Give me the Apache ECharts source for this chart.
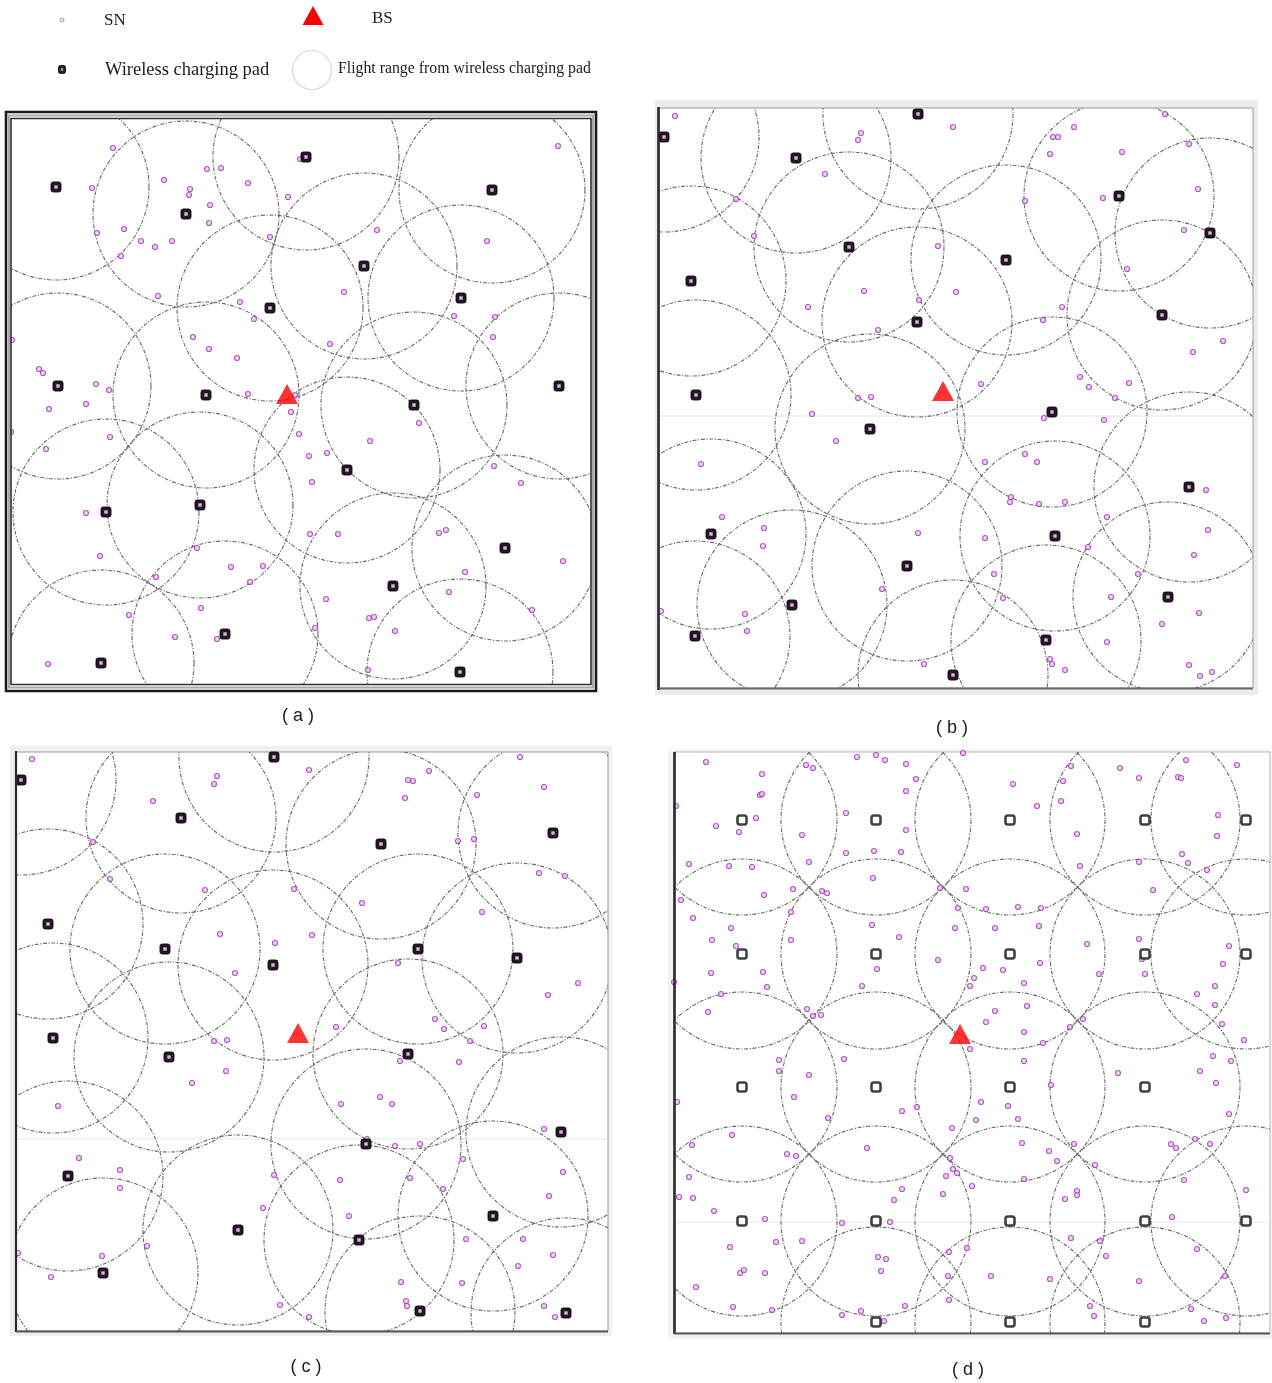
<!DOCTYPE html>
<html>
<head>
<meta charset="utf-8">
<title>Charging pad deployment</title>
<script src="https://cdn.jsdelivr.net/npm/echarts@6/dist/echarts.min.js"></script>
<style>
  html, body { margin: 0; padding: 0; background: #ffffff; }
  #chart { width: 1272px; height: 1383px; }
</style>
</head>
<body>
<div id="chart"></div>
<script>
// Field coordinates of each scenario (x to the right, y downward, same unit on both axes).
// Scenario (a): random pads
const FIELD_A = [580, 566];
const RANGE_A = 93;
const BS_A = [[276, 275]];
const PAD_A = [[45,68],[295,38],[481,71],[175,95],[353,147],[450,179],[259,189],[47,267],[195,276],[548,267],
  [403,286],[336,351],[189,386],[95,393],[494,429],[382,467],[214,515],[90,544],[449,553]];
const SN_A = [[102,29],[547,27],[81,69],[153,61],[196,50],[210,49],[237,64],[179,70],[178,76],[199,86],[277,78],
  [289,40],[198,104],[86,114],[113,110],[130,122],[144,128],[161,122],[110,137],[366,111],[476,122],[259,118],
  [147,177],[229,183],[243,200],[333,173],[443,197],[484,198],[482,218],[319,225],[182,218],[198,230],[226,239],
  [1,221],[28,250],[32,254],[85,265],[98,271],[237,275],[284,276],[75,285],[38,290],[0,313],[35,330],[99,318],
  [280,293],[288,315],[408,304],[359,322],[298,337],[316,334],[301,363],[483,347],[510,364],[75,394],[89,437],
  [186,429],[220,448],[252,447],[239,463],[145,458],[299,415],[327,415],[428,414],[435,411],[552,442],[454,453],
  [438,473],[521,491],[315,480],[358,499],[363,498],[384,512],[304,509],[190,489],[118,496],[164,518],[206,520],
  [37,545],[357,551]];

// Scenario (b)
const FIELD_B = [594, 580];
const RANGE_B = 95;
const BS_B = [[284, 283]];
const PAD_B = [[5,29],[259,6],[137,50],[460,88],[551,125],[190,139],[347,152],[32,173],[503,207],[258,214],
  [37,287],[393,304],[211,321],[530,379],[52,426],[396,428],[248,458],[509,489],[133,497],[36,528],[387,532],[294,567]];
const SN_B = [[16,8],[202,25],[199,32],[294,19],[166,66],[77,91],[95,128],[415,19],[394,29],[399,29],[391,46],
  [506,6],[530,36],[463,44],[539,81],[444,90],[366,93],[525,122],[279,138],[468,161],[205,183],[297,184],[260,192],
  [149,199],[219,222],[403,199],[384,212],[564,233],[534,244],[421,269],[430,279],[470,275],[322,276],[199,290],
  [212,289],[153,306],[177,333],[385,310],[445,312],[456,290],[42,356],[326,354],[366,346],[378,354],[352,389],
  [351,394],[380,396],[406,394],[547,382],[448,409],[549,422],[535,447],[429,439],[479,466],[452,489],[326,430],
  [259,425],[335,466],[344,490],[63,409],[105,420],[104,438],[223,481],[2,503],[86,506],[88,523],[265,556],
  [391,551],[393,556],[406,562],[448,534],[503,516],[540,505],[530,557],[541,568],[553,564]];

// Scenario (c)
const FIELD_C = [592, 579];
const RANGE_C = 95;
const BS_C = [[282, 281]];
const PAD_C = [[5,28],[258,5],[165,66],[365,92],[537,81],[32,172],[149,197],[257,213],[402,197],[501,206],
  [37,286],[153,305],[392,302],[350,392],[545,380],[52,424],[477,464],[222,478],[343,488],[87,521],[404,559],[550,561]];
const SN_C = [[16,7],[201,24],[198,32],[137,49],[293,18],[77,90],[94,127],[189,138],[392,28],[397,29],[413,19],
  [389,46],[504,5],[528,35],[461,43],[442,89],[458,87],[523,121],[549,124],[278,137],[346,151],[466,160],[204,182],
  [296,183],[259,191],[219,221],[382,211],[562,231],[532,243],[419,267],[428,277],[468,274],[320,275],[198,289],
  [211,288],[210,319],[176,331],[42,354],[454,289],[384,309],[443,310],[325,352],[364,345],[376,352],[351,387],
  [379,394],[404,392],[528,377],[447,407],[547,420],[533,444],[427,437],[394,426],[324,428],[258,423],[333,464],
  [247,456],[63,406],[104,418],[104,436],[131,494],[2,501],[86,504],[35,525],[450,487],[507,487],[537,503],
  [502,514],[446,531],[385,530],[390,549],[391,554],[264,553],[293,565],[528,554],[539,565]];

// Scenario (d): pads on a square lattice
const FIELD_D = [596, 581];
const RANGE_D = 95;
const BS_D = [[286, 282]];
const PAD_D = [[68,68],[202,68],[336,68],[471,68],[572,68],
  [68,202],[202,202],[336,202],[471,202],[572,202],
  [68,335],[202,335],[336,335],[471,335],
  [68,469],[202,469],[336,469],[471,469],[572,469],
  [202,570],[336,570],[471,570]];
const SN_D = [[32,10],[88,22],[86,43],[88,42],[2,54],[42,74],[82,66],[65,80],[132,13],[139,16],[128,83],[183,5],
  [202,3],[211,8],[232,12],[242,27],[232,39],[289,1],[172,61],[232,78],[339,32],[363,54],[397,14],[389,29],[387,49],
  [446,16],[465,26],[512,8],[504,25],[507,26],[563,13],[544,63],[543,84],[403,82],[508,102],[514,111],[465,110],
  [533,118],[406,114],[479,138],[15,112],[55,114],[78,115],[135,110],[7,148],[90,143],[119,137],[148,139],[153,141],
  [172,101],[200,99],[227,100],[199,126],[266,136],[292,137],[284,156],[312,157],[344,155],[367,156],[117,160],
  [19,166],[57,176],[38,188],[62,194],[117,188],[198,173],[225,185],[281,176],[321,176],[365,174],[264,208],
  [203,217],[37,221],[89,220],[93,235],[47,242],[0,230],[188,234],[309,216],[329,218],[366,211],[300,226],[296,234],
  [350,231],[413,192],[425,222],[465,187],[468,207],[471,222],[555,194],[549,212],[541,234],[523,242],[541,253],
  [548,272],[570,288],[34,260],[133,257],[139,264],[147,263],[321,259],[353,254],[312,270],[350,280],[369,291],
  [409,267],[396,275],[296,297],[350,309],[105,308],[105,319],[170,307],[135,323],[120,345],[3,350],[154,366],
  [228,359],[243,355],[278,376],[307,350],[302,368],[334,354],[344,367],[377,333],[444,321],[526,319],[539,304],
  [557,309],[542,331],[555,362],[58,383],[18,393],[113,402],[122,404],[193,396],[15,425],[5,445],[19,446],[40,459],
  [276,406],[279,417],[283,421],[272,424],[298,434],[269,442],[228,437],[220,448],[348,391],[375,399],[383,409],
  [350,427],[400,392],[421,413],[403,439],[403,443],[391,447],[497,392],[502,396],[521,387],[536,392],[510,428],
  [572,438],[498,465],[91,467],[168,471],[216,470],[56,495],[102,490],[128,489],[204,505],[212,507],[207,519],
  [66,521],[70,518],[91,521],[22,535],[59,555],[98,558],[168,563],[187,559],[231,554],[210,569],[275,500],[293,496],
  [274,524],[275,548],[317,524],[376,527],[397,486],[426,489],[432,504],[416,554],[420,564],[465,529],[523,497],
  [551,524],[517,557],[530,569],[552,566]];

const PANEL_LABELS = ['( a )', '( b )', '( c )', '( d )'];

const chart = echarts.init(document.getElementById('chart'), null, { renderer: 'canvas' });

// plot rectangles of the four scenarios on the page
const PANELS = [
  { field: FIELD_A, range: RANGE_A, bs: BS_A, pads: PAD_A, sn: SN_A, box: [11, 119], padStyle: 'filled' },
  { field: FIELD_B, range: RANGE_B, bs: BS_B, pads: PAD_B, sn: SN_B, box: [659, 108], padStyle: 'filled' },
  { field: FIELD_C, range: RANGE_C, bs: BS_C, pads: PAD_C, sn: SN_C, box: [16, 752], padStyle: 'filled' },
  { field: FIELD_D, range: RANGE_D, bs: BS_D, pads: PAD_D, sn: SN_D, box: [674, 752], padStyle: 'hollow' }
];

function rangeRenderer(radius) {
  return function (params, api) {
    const c = api.coord([api.value(0), api.value(1)]);
    const r = Math.abs(api.size([radius, 0])[0]);
    return {
      type: 'circle',
      shape: { cx: c[0], cy: c[1], r: r },
      style: { fill: 'none', stroke: '#6c6c6c', lineWidth: 1.15, lineDash: [4, 1.6, 1.2, 1.6] },
      silent: true
    };
  };
}

function padRenderer(params, api) {
  const p = api.coord([api.value(0), api.value(1)]);
  return {
    type: 'group',
    children: [
      { type: 'rect', shape: { x: p[0] - 5, y: p[1] - 5, width: 10, height: 10, r: 2.2 },
        style: { fill: '#221824', stroke: '#0a070b', lineWidth: 0.9 } },
      { type: 'rect', shape: { x: p[0] - 1.7, y: p[1] - 1.7, width: 3.4, height: 3.4 },
        style: { fill: '#e6b0ea' } }
    ]
  };
}

const grids = [], xAxes = [], yAxes = [], series = [];
PANELS.forEach(function (pn, i) {
  grids.push({ left: pn.box[0], top: pn.box[1], width: pn.field[0], height: pn.field[1], show: false });
  xAxes.push({ gridIndex: i, type: 'value', min: 0, max: pn.field[0], show: false });
  yAxes.push({ gridIndex: i, type: 'value', min: 0, max: pn.field[1], inverse: true, show: false });
  series.push({
    name: 'Flight range from wireless charging pad', type: 'custom', xAxisIndex: i, yAxisIndex: i,
    data: pn.pads, clip: true, z: 2, renderItem: rangeRenderer(pn.range)
  });
  series.push({
    name: 'SN', type: 'scatter', xAxisIndex: i, yAxisIndex: i, data: pn.sn, z: 3,
    symbol: 'circle', symbolSize: 5, silent: true,
    itemStyle: { color: '#efcdf3', borderColor: '#a335bb', borderWidth: 1.2 }
  });
  if (pn.padStyle === 'filled') {
    series.push({
      name: 'Wireless charging pad', type: 'custom', xAxisIndex: i, yAxisIndex: i, data: pn.pads, z: 4,
      renderItem: padRenderer
    });
  } else {
    series.push({
      name: 'Wireless charging pad', type: 'scatter', xAxisIndex: i, yAxisIndex: i, data: pn.pads, z: 4,
      symbol: 'roundRect', symbolSize: 9, silent: true,
      itemStyle: { color: '#ffffff', borderColor: '#111111', borderWidth: 2.6 }
    });
  }
  series.push({
    name: 'BS', type: 'scatter', xAxisIndex: i, yAxisIndex: i, data: pn.bs, z: 5,
    symbol: 'triangle', symbolSize: [22, 20], silent: true,
    itemStyle: { color: '#ff0000' }
  });
});

function label(text, x, y, font, align) {
  return { type: 'text', z: 20, style: { text: text, x: x, y: y, font: font, fill: '#1c1c1c',
    align: align || 'left', verticalAlign: 'middle', textAlign: align || 'left', textVerticalAlign: 'middle' } };
}
function line(x1, y1, x2, y2, color, w, z) {
  return { type: 'line', z: z || 1, shape: { x1: x1, y1: y1, x2: x2, y2: y2 }, style: { stroke: color, lineWidth: w } };
}
function rect(x, y, w, h, fill, stroke, lw, z) {
  return { type: 'rect', z: z || 0, shape: { x: x, y: y, width: w, height: h },
    style: { fill: fill, stroke: stroke, lineWidth: lw || 0 } };
}

const SERIF = '"Liberation Serif", "Times New Roman", serif';
const SANS = '"Liberation Sans", Arial, sans-serif';

const graphics = [
  // legend
  { type: 'circle', z: 20, shape: { cx: 62, cy: 20, r: 2 }, style: { fill: '#f3e4f6', stroke: '#c48ad0', lineWidth: 1 } },
  label('SN', 104, 21, '17px ' + SERIF),
  { type: 'polygon', z: 20, shape: { points: [[313, 6], [302.5, 25], [323.5, 25]] }, style: { fill: '#ff0000' } },
  label('BS', 372, 19, '17px ' + SERIF),
  { type: 'rect', z: 20, shape: { x: 58.5, y: 65.5, width: 7, height: 8, r: 2 }, style: { fill: '#2a1f2c', stroke: '#000', lineWidth: 0.8 } },
  { type: 'rect', z: 21, shape: { x: 60.8, y: 68.3, width: 2.4, height: 2.4 }, style: { fill: '#c79ccd' } },
  label('Wireless charging pad', 105, 70, '18.5px ' + SERIF),
  { type: 'circle', z: 20, shape: { cx: 312, cy: 70, r: 19.5 }, style: { fill: 'none', stroke: '#dadada', lineWidth: 1.2 } },
  label('Flight range from wireless charging pad', 338, 69, '15.8px ' + SERIF),

  // frame of (a): heavy double border
  rect(6, 112, 590, 579, 'none', '#1b1b1b', 2.6, 10),
  rect(9, 115.5, 584, 572, 'none', '#a9a9a9', 2, 10),
  rect(11, 118.5, 580, 566, 'none', '#2e2e2e', 1.6, 10),

  // frame of (b)
  rect(655, 100, 603, 595, '#ececec', 'none', 0, -5),
  rect(659, 108, 594, 580, '#ffffff', '#9a9a9a', 1, -4),
  line(658.5, 107, 658.5, 690, '#2a2a2a', 2.6, 10),
  line(659, 688.5, 1253, 688.5, '#6a6a6a', 2, 10),
  line(659, 416, 1253, 416, '#e4e4e4', 1, -3),

  // frame of (c)
  rect(10, 746, 602, 590, '#efefef', 'none', 0, -5),
  rect(16, 752, 592, 579, '#ffffff', '#9a9a9a', 1, -4),
  line(16, 751, 16, 1332, '#2a2a2a', 2.2, 10),
  line(16, 1331.5, 608, 1331.5, '#555555', 2, 10),
  line(16, 1139, 608, 1139, '#e6e6e6', 1, -3),

  // frame of (d)
  rect(668, 749, 605, 590, '#f4f4f4', 'none', 0, -5),
  rect(674, 752, 596, 581, '#ffffff', '#b5b5b5', 1, -4),
  line(674.5, 752, 674.5, 1334, '#2a2a2a', 2.6, 10),
  line(674, 1333.5, 1270, 1333.5, '#555555', 2, 10),
  line(674, 1222, 1270, 1222, '#e8e8e8', 1, -3),

  // panel captions
  label(PANEL_LABELS[0], 298, 716, '18px ' + SANS, 'center'),
  label(PANEL_LABELS[1], 952, 728, '18px ' + SANS, 'center'),
  label(PANEL_LABELS[2], 306, 1367, '18px ' + SANS, 'center'),
  label(PANEL_LABELS[3], 968, 1370, '18px ' + SANS, 'center')
];

chart.setOption({
  animation: false,
  backgroundColor: '#ffffff',
  grid: grids,
  xAxis: xAxes,
  yAxis: yAxes,
  graphic: { elements: graphics },
  series: series
});
</script>
</body>
</html>
